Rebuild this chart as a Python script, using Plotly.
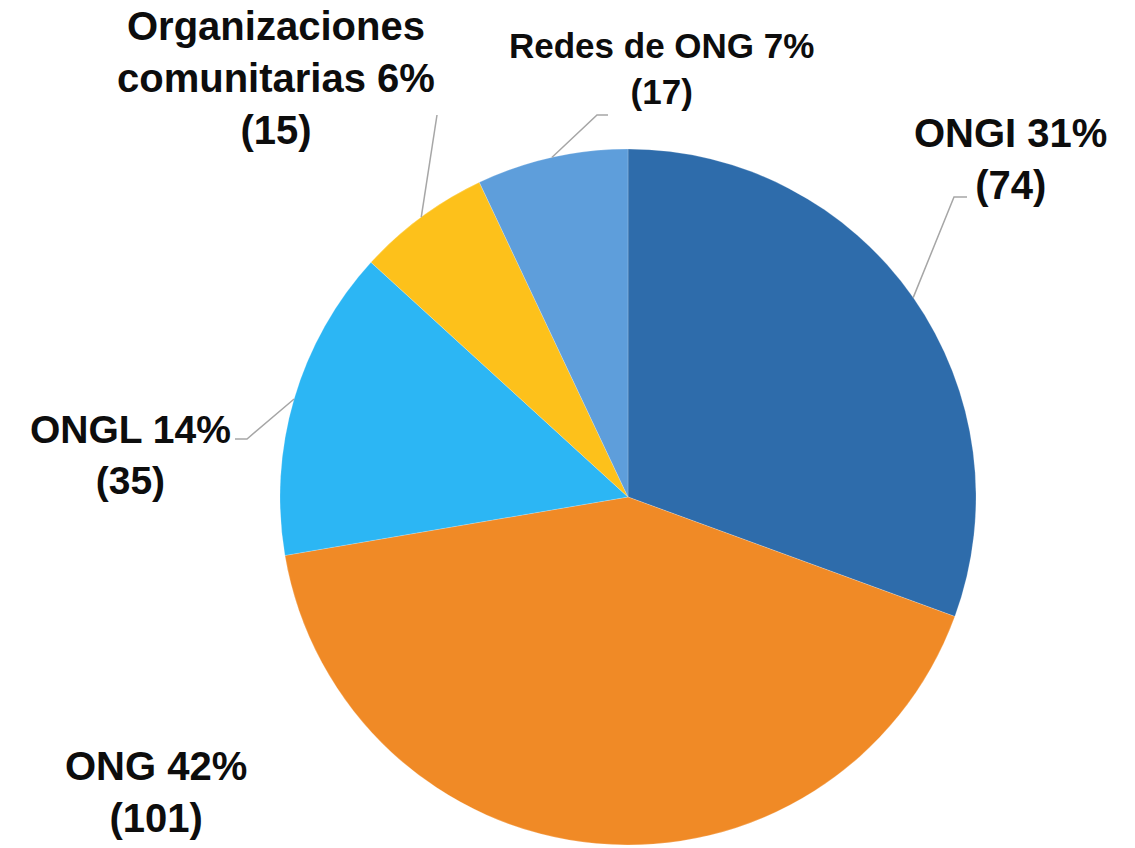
import math
import plotly.graph_objects as go

# Datos
categorias = ["ONGI", "ONG", "ONGL", "Organizaciones<br>comunitarias", "Redes de ONG"]
valores = [74, 101, 35, 15, 17]
porcentajes = ["31%", "42%", "14%", "6%", "7%"]
colores = ["#2e6cab", "#f08a26", "#2cb6f4", "#fdc11b", "#5e9edb"]

W, H = 1135, 848
cx, cy, R = 628, 497, 348   # centro y radio del pastel (pixeles)

# Posicion de las etiquetas (pixeles), tamano de letra y codo de la linea guia
etiquetas_pos = [(1010, 159), (156, 792), (130, 455), (276, 78), (661, 68)]
tam_letra = [40, 40, 39, 40, 35]
codos = [[(967, 197), (954, 197)], None, [(235, 439), (247, 439)],
         [(437, 115)], [(608, 115), (597, 115)]]


def px(x, y):
    return x / W, 1 - y / H


fig = go.Figure()

x0, y1 = px(cx - R, cy - R)
x1, y0 = px(cx + R, cy + R)
fig.add_trace(go.Pie(
    labels=categorias,
    values=valores,
    sort=False,
    direction="clockwise",
    rotation=0,
    marker=dict(colors=colores, line=dict(width=0.5, color="rgba(255,255,255,0.4)")),
    textinfo="none",
    hoverinfo="label+value+percent",
    showlegend=False,
    domain=dict(x=[x0, x1], y=[max(y0, 0), y1]),
))

total = sum(valores)
acum = 0
shapes = []
annotations = []
for i, v in enumerate(valores):
    medio = (acum + v / 2) / total * 2 * math.pi
    acum += v
    tx = cx + R * math.sin(medio)
    ty = cy - R * math.cos(medio)
    lx, ly = px(*etiquetas_pos[i])
    annotations.append(dict(
        x=lx, y=ly, xref="paper", yref="paper",
        text=f"{categorias[i]} {porcentajes[i]}<br>({v})",
        showarrow=False, xanchor="center", yanchor="middle",
        font=dict(family="Liberation Sans, Arial", size=tam_letra[i], color="#0d0d0d", weight="bold"),
    ))
    if codos[i]:
        pts = codos[i] + [(tx, ty)]
        path = "M " + " L ".join("%f %f" % px(a, b) for a, b in pts)
        shapes.append(dict(type="path", path=path, xref="paper", yref="paper",
                           line=dict(color="#a6a6a6", width=1.5)))

fig.update_layout(
    width=W, height=H,
    margin=dict(l=0, r=0, t=0, b=0),
    paper_bgcolor="white",
    plot_bgcolor="white",
    shapes=shapes,
    annotations=annotations,
)

# quitar el margen por defecto del body para que la figura ocupe toda la ventana
fig.write_html("out.html", config={"displayModeBar": False},
               post_script="document.body.style.margin='0';")
